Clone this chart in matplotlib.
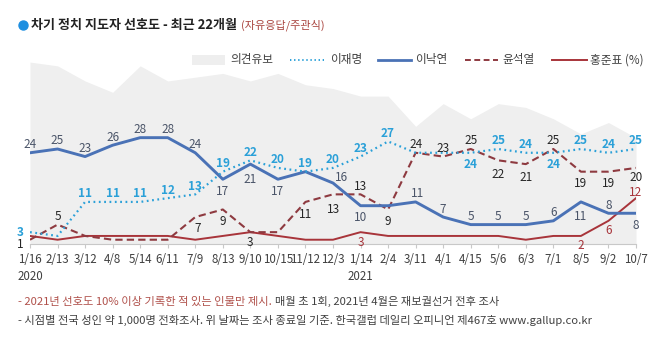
import matplotlib
matplotlib.use("Agg")
import matplotlib.pyplot as plt
from matplotlib.lines import Line2D
from matplotlib.patches import Rectangle
from matplotlib.transforms import blended_transform_factory

plt.rcParams['font.family'] = ['Noto Sans CJK KR', 'DejaVu Sans']

# ---- data -------------------------------------------------------------
dates = ['1/16', '2/13', '3/12', '4/8', '5/14', '6/11', '7/9', '8/13', '9/10',
         '10/15', '11/12', '12/3', '1/14', '2/4', '3/11', '4/1', '4/15', '5/6',
         '6/3', '7/1', '8/5', '9/2', '10/7']
years = {0: '2020', 12: '2021'}

no_opinion = [48, 47, 43, 40, 47, 43, 44, 45, 43, 45, 42, 41, 39, 39, 31, 37,
              33, 37, 36, 33, 29, 32, 28]
lee_jm = [3, 2, 11, 11, 11, 12, 13, 19, 22, 20, 19, 20, 23, 27, 24, 24, 24,
          25, 24, 24, 25, 24, 25]
lee_ny = [24, 25, 23, 26, 28, 28, 24, 17, 21, 17, 19, 16, 10, 10, 11, 7, 5,
          5, 5, 6, 11, 8, 8]
yoon = [1, 5, 2, 1, 1, 1, 7, 9, 3, 3, 11, 13, 13, 9, 24, 23, 25, 22, 21, 25,
        19, 19, 20]
hong = [2, 1, 2, 2, 2, 2, 1, 2, 3, 2, 1, 1, 3, 2, 2, 2, 2, 2, 1, 2, 2, 6, 12]

# ---- label placement (pixel offsets from each point, None = no label) --
A, B = (0, 8), (0, -12)
pos_jm = [(-10, 0), None, A, A, A, A, A, A, A, A, A, A, A, A, None, None,
          B, A, A, B, A, A, A]
pos_ny = [A, A, A, A, A, A, A, B, (0, -15), B, None, (9, 6), B, None, (2, 8),
          A, A, A, A, A, (0, -15), A, B]
pos_yoon = [(-10, -5), A, None, None, None, None, (2, -11), B, (0, -10), None,
            (0, -13), (0, -15), A, B, A, A, A, (0, -14), (0, -13), A, B, B,
            (0, -10)]
pos_hong = [None] * 12 + [(0, -10)] + [None] * 7 + [(0, -10), (0, -10), (0, 6)]

C_GREY = '#efefef'
C_JM = '#2aa0d8'
C_NY = '#4a72b6'
C_YOON = '#8e3a40'
C_HONG = '#a8343a'
C_TEXT = '#404040'

W, H = 658, 348
fig = plt.figure(figsize=(W / 100, H / 100), dpi=100)
fx = lambda px: px / W
fy = lambda py: 1 - py / H

ax = fig.add_axes([fx(30), fy(243.5), fx(636) - fx(30), (243.5 - 54.5) / H])
x = list(range(len(dates)))

ax.fill_between(x, 0, no_opinion, color=C_GREY, lw=0, zorder=1)
ax.plot(x, hong, color=C_HONG, lw=1.4, zorder=3)
ax.plot(x, yoon, color=C_YOON, lw=1.5, dashes=(3.5, 2), zorder=4)
ax.plot(x, lee_ny, color=C_NY, lw=2.1, zorder=5)
ax.plot(x, lee_jm, color=C_JM, lw=1.6, dashes=(0.8, 1.6), zorder=6)

ax.set_xlim(0, len(dates) - 1)
ax.set_ylim(0, 50)
for s in ['top', 'left', 'right']:
    ax.spines[s].set_visible(False)
ax.spines['bottom'].set_color('#c8c8c8')
ax.spines['bottom'].set_linewidth(0.8)
ax.set_yticks([])
ax.set_xticks(x)
ax.set_xticklabels(dates, fontsize=8.3, color=C_TEXT)
ax.tick_params(axis='x', length=3, color='#c8c8c8', pad=4)
ax.patch.set_visible(False)

btrans = blended_transform_factory(ax.transData, ax.transAxes)
for i, yr in years.items():
    ax.text(i, -0.177, yr, transform=btrans, ha='center', va='center',
            fontsize=8.3, color=C_TEXT)


def put_labels(vals, positions, color, weight='normal'):
    for i, (v, p) in enumerate(zip(vals, positions)):
        if p is None:
            continue
        ax.annotate(str(v), (i, v), xytext=p, textcoords='offset pixels',
                    ha='center', va='center', fontsize=8.5, color=color,
                    weight=weight, zorder=7)


put_labels(lee_jm, pos_jm, C_JM, 'bold')
put_labels(lee_ny, pos_ny, '#4a5468')
put_labels(yoon, pos_yoon, '#262626')
put_labels(hong, pos_hong, C_HONG)

renderer = fig.canvas.get_renderer()

# ---- title ------------------------------------------------------------
fig.add_artist(Line2D([fx(22.5)], [fy(25)], marker='o', markersize=6.5,
                      color='#1e8fe0', transform=fig.transFigure))
t = fig.text(fx(31), fy(25), '차기 정치 지도자 선호도 - 최근 22개월',
             fontsize=9.4, weight='bold', color='#222222', va='center')
bb = t.get_window_extent(renderer=renderer)
fig.text((bb.x1 + 4) / W, fy(25.5), '(자유응답/주관식)', fontsize=8,
         color='#a9443e', va='center')

# ---- legend -----------------------------------------------------------
ly = fy(60)
fig.add_artist(Rectangle((fx(192), fy(65)), fx(225) - fx(192), 10 / H,
                         color='#eeeeee', lw=0, transform=fig.transFigure))
fig.text(fx(230), ly, '의견유보', fontsize=8.4, color=C_TEXT, va='center')
swatches = [
    (290, 324, dict(color=C_JM, lw=1.4, dashes=(0.7, 1.4)), 330, '이재명'),
    (378, 411, dict(color=C_NY, lw=2.0), 415, '이낙연'),
    (465, 498, dict(color=C_YOON, lw=1.4, dashes=(3, 1.8)), 502, '윤석열'),
    (552, 587, dict(color=C_HONG, lw=1.4), 590, '홍준표 (%)'),
]
for x0, x1, style, tx, label in swatches:
    fig.add_artist(Line2D([fx(x0), fx(x1)], [ly, ly], transform=fig.transFigure,
                          **style))
    fig.text(fx(tx), ly, label, fontsize=8.4, color=C_TEXT, va='center')

# ---- footnotes --------------------------------------------------------
f1 = fig.text(fx(18), fy(301.5), '- 2021년 선호도 10% 이상 기록한 적 있는 인물만 제시.',
              fontsize=8.1, color='#b0504a', va='center')
bb = f1.get_window_extent(renderer=renderer)
fig.text((bb.x1 + 3) / W, fy(301.5), '매월 초 1회, 2021년 4월은 재보궐선거 전후 조사',
         fontsize=8.1, color=C_TEXT, va='center')
fig.text(fx(18), fy(320.5),
         '- 시점별 전국 성인 약 1,000명 전화조사. 위 날짜는 조사 종료일 기준. '
         '한국갤럽 데일리 오피니언 제467호 www.gallup.co.kr',
         fontsize=8.1, color=C_TEXT, va='center')

fig.savefig('out.png', dpi=100, facecolor='white')
